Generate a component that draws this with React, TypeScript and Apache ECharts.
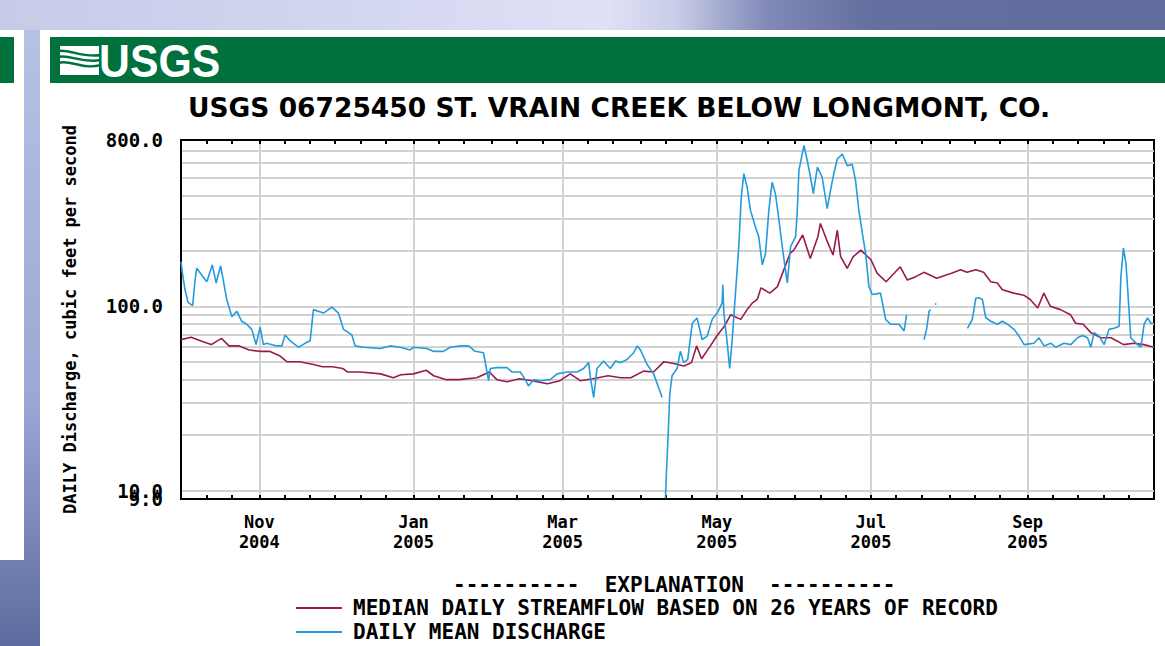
import React, { useEffect, useRef } from "react";
import * as echarts from "echarts";

// x values are days since 1 Oct 2004 (water year 2005)
const monthStarts = [0, 31, 61, 92, 123, 151, 182, 212, 243, 273, 304, 335, 365];
const xMaxDay = 385;
const xLabelDays = [31, 92, 151, 212, 273, 335];
const xLabelTexts = ["Nov\n2004", "Jan\n2005", "Mar\n2005", "May\n2005", "Jul\n2005", "Sep\n2005"];
const yLabelValues = [10, 100, 800];
const yMinLabelValues = [9.001];
const yGridValues = [10, 20, 30, 40, 50, 60, 70, 80, 90, 100, 200, 300, 400, 500, 600, 700];

const medianName = "MEDIAN DAILY STREAMFLOW BASED ON 26 YEARS OF RECORD";
const meanName = "DAILY MEAN DISCHARGE";

const medianFlow = [
  [0, 66], [4, 68], [9, 64], [12, 62], [16, 67], [19, 61], [23, 61], [27, 58], [31, 57], [35, 57],
  [39, 54], [42, 50], [47, 50], [52, 48.5], [56, 47], [60, 47], [64, 46], [66, 44], [71, 44], [79, 43],
  [84, 41], [87, 42.5], [92, 43], [97, 45], [100, 42], [105, 40], [110, 40], [117, 41], [122, 44], [125, 40],
  [129, 39], [134, 40.5], [139, 39.5], [145, 38], [150, 39.5], [154, 43], [158, 39.5], [163, 40.5], [169, 42], [174, 41],
  [178, 41], [183, 44.5], [187, 44], [191, 50], [195, 49], [199, 47.5], [202, 49.5], [204, 61], [206, 52], [209.5, 61],
  [212, 69], [215, 78], [217.5, 90], [221.5, 85], [224, 96], [226, 104], [228, 109], [229.5, 126], [233, 118], [236, 128],
  [238, 151], [241, 194], [242.5, 202], [246, 244], [249, 182], [252, 239], [253, 282], [255.5, 229], [258, 190], [259.7, 259],
  [261, 186], [263.6, 161], [266, 186], [269, 202], [273, 179], [275.5, 151], [279, 136], [284.6, 164], [287.4, 139], [290.7, 145],
  [294, 153], [299, 142], [304.6, 151], [308.5, 158], [311, 153], [314.5, 158], [317.6, 153], [320.4, 136], [323, 134], [325, 123],
  [329.5, 118], [333.5, 115], [336, 109], [339, 98], [341.4, 118], [344, 100], [348, 96], [352, 90], [354, 81], [357, 80],
  [360, 72], [364, 67.5], [368, 67.5], [373, 62], [377, 63], [381, 62], [385, 60],
];

const dailyMean = [
  [0, 175], [0.6, 150], [1.6, 123], [2.8, 105], [4.6, 101], [5.5, 136], [6.2, 161], [8.2, 148], [10.2, 136], [12.4, 168],
  [13.9, 134], [15.7, 166], [17.4, 123], [18.1, 109], [20.1, 88], [22.1, 94], [24, 83], [26, 80], [28, 75], [29.7, 62],
  [31.3, 77], [32.6, 62], [33.9, 63], [37.9, 61], [39.9, 61], [41.2, 70], [43.2, 65], [46.5, 60], [49.1, 63], [51.1, 65],
  [52.4, 96], [56.4, 92], [59.7, 99], [62.3, 92], [64.3, 75], [67.6, 70], [68.9, 61], [72.2, 60], [78.8, 59], [82.8, 61],
  [86.7, 60], [90.7, 58], [92, 60], [97.3, 59], [99.8, 57], [103.8, 57], [106.5, 60], [110.5, 61], [113.8, 61], [116.4, 57],
  [119.7, 56], [121.7, 39.5], [122.4, 46], [125, 46.5], [129, 46.5], [131, 44], [134.3, 44], [136.2, 40], [137.5, 37], [139.5, 40],
  [142.2, 39.5], [146.1, 40], [148.8, 43], [152.8, 44], [156.7, 44], [159.3, 46], [161.3, 49.5], [162, 41], [163.3, 32], [164.6, 46],
  [167.2, 50.5], [169.9, 46], [171.9, 50.5], [173.9, 49.5], [176.5, 51.5], [179.1, 56], [180.5, 61], [181.8, 58], [184.4, 48.5], [187, 43],
  [190.4, 32], [191, null], [191.7, 9.1], [192.1, 12.7], [192.8, 20.7], [193.4, 33.4], [194.3, 42], [196.3, 46], [197.6, 57], [198.9, 49.5],
  [200.5, 51.5], [202.3, 81], [204.2, 86.5], [206.2, 66], [208.2, 69], [210.2, 85], [212.2, 92], [214.1, 104], [214.4, 131], [214.8, 92],
  [216.1, 64], [217.1, 46], [218.1, 66], [219.4, 118], [220.7, 211], [221.7, 392], [222.7, 525], [224, 444], [225.3, 333], [227.3, 270],
  [228.6, 239], [230, 168], [231.3, 194], [232.6, 333], [233.9, 472], [235.2, 409], [236.6, 294], [237.9, 211], [239.9, 134], [241.2, 211],
  [243.2, 239], [243.8, 319], [244.5, 547], [246.5, 747], [247.8, 619], [249.1, 502], [250.2, 409], [251.8, 570], [253.7, 502], [255.7, 339],
  [257, 426], [258.3, 525], [259.7, 633], [261.7, 671], [263.6, 580], [265.6, 590], [266.9, 483], [268.2, 333], [269.6, 249], [270.9, 194],
  [272.2, 128], [273.5, 116], [276.8, 118], [278.8, 85], [280.8, 80], [284.1, 80], [286.1, 73.5], [287.1, 90], [287.6, null],
  [294, 66], [295, 75], [296, 94], [296.6, 96], [297.4, null], [298.3, 103], [298.9, 103], [299.4, null],
  [311.2, 76], [313.1, 85], [314.5, 111], [315.8, 111], [317.1, 109], [318.4, 87], [320.4, 83], [323, 80], [325, 83], [327, 80],
  [329.6, 75], [331.6, 69], [333.6, 62], [337.5, 63], [339.5, 67.5], [341.5, 61], [344.2, 63], [346.1, 60], [349.4, 63], [352.1, 62],
  [354.7, 67.5], [356.7, 69.5], [358.7, 67.5], [360, 60], [361.3, 72], [363.3, 69], [365.3, 62], [367.2, 75], [369.2, 76], [371.2, 78],
  [371.9, 145], [372.9, 207], [373.9, 171], [374.6, 123], [375.8, 67.5], [378.5, 62], [379.8, 60], [381.1, 80], [382.5, 86.5], [383.8, 81],
  [385, 81],
];

const MONO = "'DejaVu Sans Mono', 'Liberation Mono', monospace";
const GRID_GREY = "#d2d2d2";
const MAROON = "#991a50";
const BLUE = "#249bdb";
const GREEN = "#00703c";

export default function App() {
  const ref = useRef<HTMLDivElement>(null);

  useEffect(() => {
    document.body.style.margin = "0";
    if (!ref.current) return;
    const chart = echarts.init(ref.current, undefined, { renderer: "svg" });

    const tickDays: number[] = [];
    monthStarts.forEach((m) => {
      [0, 10, 20].forEach((d) => {
        if (m + d <= xMaxDay) tickDays.push(m + d);
      });
    });

    const tickAxisCommon = {
      type: "value",
      min: 0,
      max: xMaxDay,
      axisLabel: { show: false },
      splitLine: { show: false },
      axisTick: {
        show: true,
        inside: true,
        length: 4,
        customValues: tickDays,
        lineStyle: { color: "#000", width: 2 },
      },
    };

    const yLabelStyle = {
      formatter: (v: number) => Number(v).toFixed(1),
      margin: 18, fontFamily: MONO, fontWeight: "bold", fontSize: 19, color: "#000",
    };

    const option: any = {
      animation: false,
      backgroundColor: "transparent",
      graphic: {
        elements: [
          {
            type: "rect", z: -20, silent: true,
            shape: { x: 0, y: 0, width: 1165, height: 30 },
            style: {
              fill: {
                type: "linear", x: 0, y: 0, x2: 1, y2: 0,
                colorStops: [
                  { offset: 0, color: "#c6cbe8" },
                  { offset: 0.3, color: "#d3d6f0" },
                  { offset: 0.52, color: "#dfe1f6" },
                  { offset: 0.58, color: "#c9cde8" },
                  { offset: 0.66, color: "#7f88b6" },
                  { offset: 0.75, color: "#656f9f" },
                  { offset: 1, color: "#636d9d" },
                ],
              },
            },
          },
          {
            type: "rect", z: -20, silent: true,
            shape: { x: 0, y: 30, width: 40, height: 616 },
            style: {
              fill: {
                type: "linear", x: 0, y: 0, x2: 0, y2: 1,
                colorStops: [
                  { offset: 0, color: "#b6c1e3" },
                  { offset: 0.6, color: "#9aa8d4" },
                  { offset: 1, color: "#5c6b9f" },
                ],
              },
            },
          },
          { type: "rect", z: -19, silent: true, shape: { x: 0, y: 30, width: 24, height: 530 }, style: { fill: "#ffffff" } },
          { type: "rect", z: -19, silent: true, shape: { x: 0, y: 37, width: 14, height: 46 }, style: { fill: GREEN } },
          { type: "rect", z: -19, silent: true, shape: { x: 40, y: 30, width: 1125, height: 616 }, style: { fill: "#ffffff" } },
          { type: "rect", z: -18, silent: true, shape: { x: 50, y: 37, width: 1115, height: 46 }, style: { fill: GREEN } },
          { type: "rect", z: -17, silent: true, shape: { x: 60, y: 46, width: 39, height: 29 }, style: { fill: "#ffffff" } },
          {
            type: "bezierCurve", z: -16, silent: true,
            shape: { x1: 58, y1: 51, cpx1: 70, cpy1: 49, cpx2: 82, cpy2: 58, x2: 101, y2: 55 },
            style: { stroke: GREEN, lineWidth: 2.4, fill: "none" },
          },
          {
            type: "bezierCurve", z: -16, silent: true,
            shape: { x1: 58, y1: 57, cpx1: 70, cpy1: 54, cpx2: 82, cpy2: 64, x2: 101, y2: 60 },
            style: { stroke: GREEN, lineWidth: 2.4, fill: "none" },
          },
          {
            type: "bezierCurve", z: -16, silent: true,
            shape: { x1: 58, y1: 63, cpx1: 70, cpy1: 59, cpx2: 82, cpy2: 70, x2: 101, y2: 65 },
            style: { stroke: GREEN, lineWidth: 2.4, fill: "none" },
          },
          {
            type: "text", z: -16, silent: true, x: 99, y: 61, scaleX: 0.93,
            style: {
              text: "USGS", fill: "#ffffff", fontFamily: "'Liberation Sans', Arial, sans-serif",
              fontWeight: "bold", fontSize: 46, verticalAlign: "middle", align: "left",
            },
          },
        ],
      },
      title: [
        {
          text: "USGS 06725450 ST. VRAIN CREEK BELOW LONGMONT, CO.",
          left: 188, top: 94, padding: 0,
          textStyle: { fontFamily: "'DejaVu Sans', sans-serif", fontWeight: "bold", fontSize: 26.5, color: "#000" },
        },
        {
          text: "----------  EXPLANATION  ----------",
          left: 453, top: 574, padding: 0,
          textStyle: { fontFamily: MONO, fontWeight: "bold", fontSize: 21, color: "#000" },
        },
      ],
      legend: {
        orient: "vertical", left: 296, top: 597, padding: 0,
        icon: "rect", itemWidth: 46, itemHeight: 2, itemGap: 2,
        data: [medianName, meanName],
        textStyle: { fontFamily: MONO, fontWeight: "bold", fontSize: 21, color: "#000", lineHeight: 22, padding: [0, 0, 0, 6] },
      },
      grid: {
        left: 181, top: 140, width: 973, height: 359,
        show: true, borderColor: "#000", borderWidth: 2, backgroundColor: "transparent",
      },
      xAxis: [
        {
          type: "value", min: 0, max: xMaxDay, position: "bottom",
          axisLine: { show: true, onZero: false, lineStyle: { color: "#000", width: 2 } },
          axisTick: { show: false, customValues: xLabelDays },
          axisLabel: {
            customValues: xLabelDays,
            formatter: (v: number) => {
              const i = xLabelDays.indexOf(Math.round(v));
              return i >= 0 ? xLabelTexts[i] : "";
            },
            margin: 13, fontFamily: MONO, fontWeight: "bold", fontSize: 17, lineHeight: 20, color: "#000",
          },
          splitLine: { show: true, lineStyle: { color: GRID_GREY, width: 2 } },
        },
        { ...tickAxisCommon, position: "bottom", axisLine: { show: false, onZero: false } },
        { ...tickAxisCommon, position: "top", axisLine: { show: true, onZero: false, lineStyle: { color: "#000", width: 2 } } },
      ],
      yAxis: [
        {
          type: "log", logBase: 10, min: 9, max: 800, position: "left",
          axisLine: { show: true, onZero: false, lineStyle: { color: "#000", width: 2 } },
          axisTick: { show: false, customValues: yGridValues },
          axisLabel: { ...yLabelStyle, customValues: yLabelValues, showMaxLabel: true },
          splitLine: { show: true, lineStyle: { color: GRID_GREY, width: 2 } },
          name: "DAILY Discharge, cubic feet per second",
          nameLocation: "middle", nameRotate: 90, nameGap: 103,
          nameTextStyle: { fontFamily: MONO, fontWeight: "bold", fontSize: 17, color: "#000" },
        },
        {
          type: "log", logBase: 10, min: 9, max: 800, position: "left", offset: 0,
          axisLine: { show: false, onZero: false },
          axisTick: { show: false, customValues: yMinLabelValues },
          axisLabel: { ...yLabelStyle, customValues: yMinLabelValues, showMinLabel: true },
          splitLine: { show: false },
        },
      ],
      series: [
        {
          name: medianName, type: "line", data: medianFlow, xAxisIndex: 0, yAxisIndex: 0,
          symbol: "none", showSymbol: false, connectNulls: false,
          lineStyle: { color: MAROON, width: 1.6 }, itemStyle: { color: MAROON },
        },
        {
          name: meanName, type: "line", data: dailyMean, xAxisIndex: 0, yAxisIndex: 0,
          symbol: "none", showSymbol: false, connectNulls: false,
          lineStyle: { color: BLUE, width: 1.6 }, itemStyle: { color: BLUE },
        },
      ],
    };

    chart.setOption(option);
    return () => chart.dispose();
  }, []);

  return <div ref={ref} style={{ width: 1165, height: 646 }} />;
}
